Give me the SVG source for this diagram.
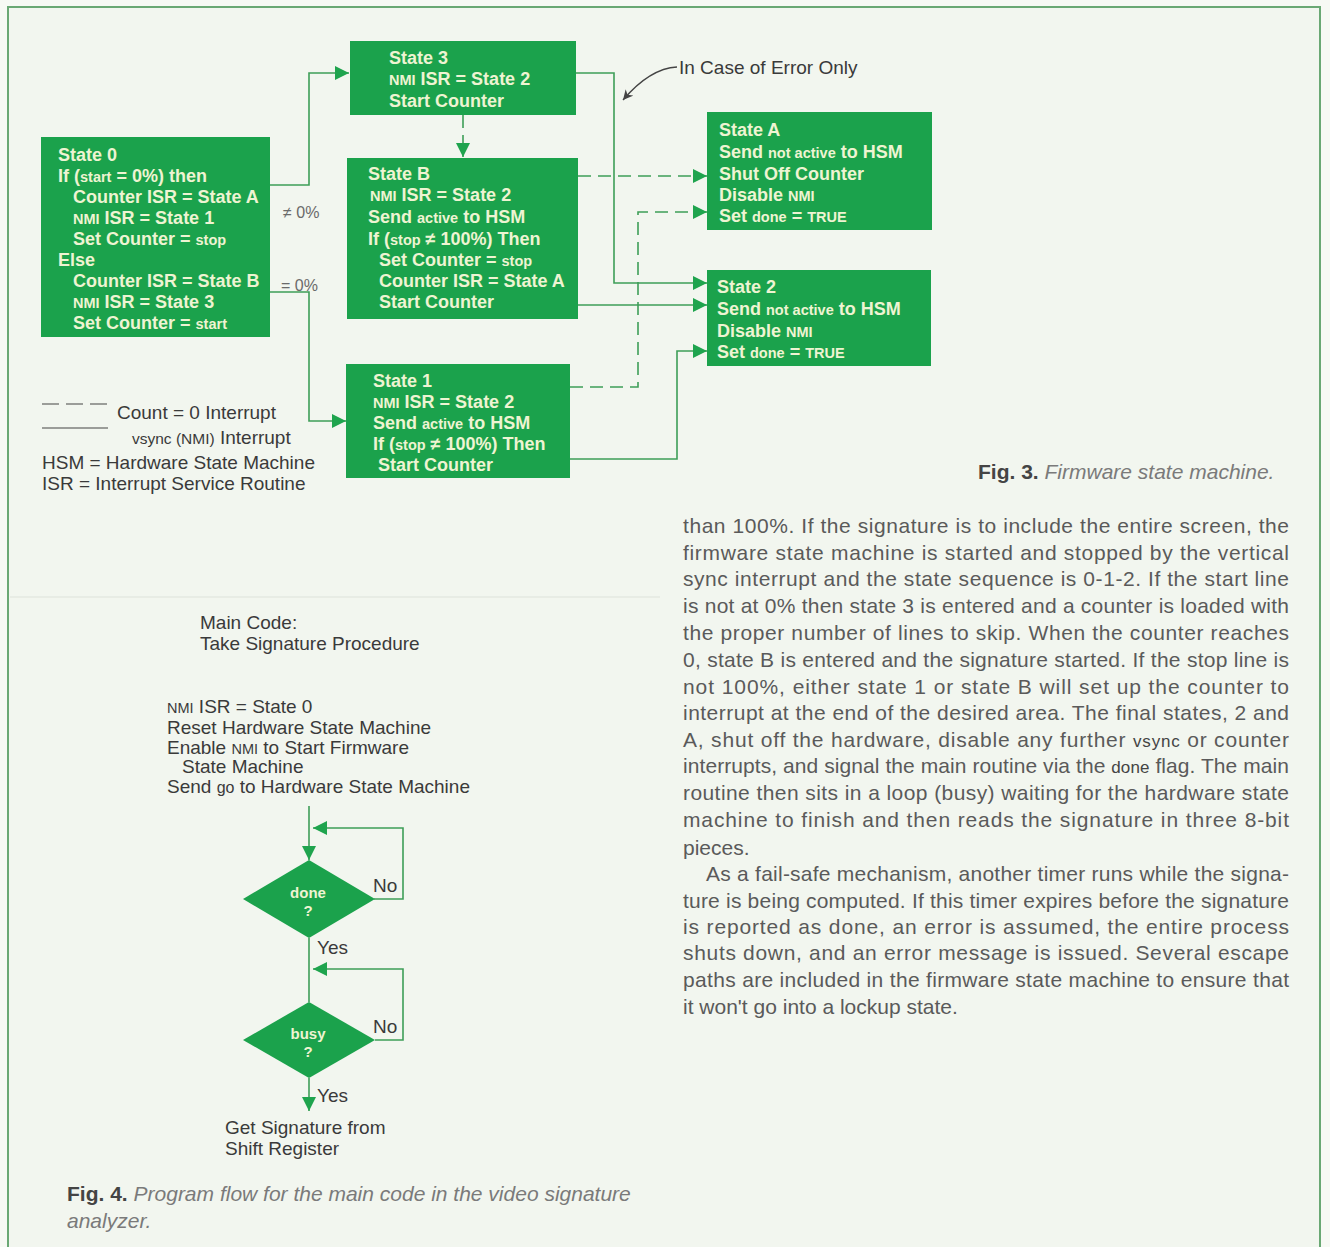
<svg xmlns="http://www.w3.org/2000/svg" width="1330" height="1247" viewBox="0 0 1330 1247">
<style>
.box{fill:#1ba24c}
.bt{font-family:"Liberation Sans",Arial,sans-serif;font-weight:bold;font-size:18px;fill:#eef4d2}
.sm{font-size:14.5px}
.conn{fill:none;stroke:#3e9e58;stroke-width:1.6}
.dash{stroke-dasharray:13 7}
.lbl{font-family:"Liberation Sans",Arial,sans-serif;font-size:16px;fill:#6a6a6a}
.lg{font-family:"Liberation Sans",Arial,sans-serif;font-size:19px;fill:#3a3a3a}
.para{font-family:"Liberation Sans",Arial,sans-serif;font-size:21px;fill:#5a5a5a}
.cap{font-family:"Liberation Sans",Arial,sans-serif;font-size:21px}
.dt{font-family:"Liberation Sans",Arial,sans-serif;font-weight:bold;font-size:15px;fill:#eef4d2;text-anchor:middle}
</style>
<defs>
<marker id="ah" markerUnits="userSpaceOnUse" markerWidth="15" markerHeight="15" refX="14" refY="7" orient="auto">
<path d="M0,0 L14,7 L0,14 z" fill="#1fa44e"/>
</marker>
<marker id="ahs" markerUnits="userSpaceOnUse" markerWidth="12" markerHeight="12" refX="10" refY="5" orient="auto">
<path d="M0,0 L10,5 L0,10 L3,5 z" fill="#444"/>
</marker>
</defs>
<rect x="0" y="0" width="1330" height="1247" fill="#f7f9f4"/>
<rect x="8" y="7" width="1312" height="1260" fill="#f2f6ef" stroke="#6aa874" stroke-width="2"/>
<line x1="10" y1="597" x2="660" y2="597" stroke="#dde2da" stroke-width="1"/>

<g id="connectors">
<path class="conn" d="M270,185 H309 V73 H349" marker-end="url(#ah)"/>
<path class="conn" d="M270,292 H309 V421 H346" marker-end="url(#ah)"/>
<path class="conn dash" d="M463,115 V157" marker-end="url(#ah)"/>
<path class="conn" d="M576,73 H614 V283 H707" marker-end="url(#ah)"/>
<path class="conn dash" d="M578,176 H707" marker-end="url(#ah)"/>
<path class="conn" d="M578,305 H707" marker-end="url(#ah)"/>
<path class="conn dash" d="M570,387 H638 V212 H707" marker-end="url(#ah)"/>
<path class="conn" d="M570,459 H677 V351 H707" marker-end="url(#ah)"/>
<path d="M677,67 C658,68 640,80 623,100" fill="none" stroke="#444" stroke-width="1.3" marker-end="url(#ahs)"/>
<text class="lbl" x="283" y="218">≠ 0%</text>
<text class="lbl" x="281" y="291">= 0%</text>
</g>

<g id="state0">
<rect class="box" x="41" y="137" width="229" height="200"/>
<text class="bt" x="58" y="161">State 0</text>
<text class="bt" x="58" y="182">If (<tspan class="sm">start</tspan> = 0%) then</text>
<text class="bt" x="73" y="203">Counter ISR = State A</text>
<text class="bt" x="73" y="224"><tspan class="sm">NMI</tspan> ISR = State 1</text>
<text class="bt" x="73" y="245">Set Counter = <tspan class="sm">stop</tspan></text>
<text class="bt" x="58" y="266">Else</text>
<text class="bt" x="73" y="287">Counter ISR = State B</text>
<text class="bt" x="73" y="308"><tspan class="sm">NMI</tspan> ISR = State 3</text>
<text class="bt" x="73" y="329">Set Counter = <tspan class="sm">start</tspan></text>
</g>

<g id="state3">
<rect class="box" x="350" y="41" width="226" height="74"/>
<text class="bt" x="389" y="64">State 3</text>
<text class="bt" x="389" y="85"><tspan class="sm">NMI</tspan> ISR = State 2</text>
<text class="bt" x="389" y="107">Start Counter</text>
</g>

<g id="stateB">
<rect class="box" x="347" y="158" width="231" height="161"/>
<text class="bt" x="368" y="180">State B</text>
<text class="bt" x="370" y="201"><tspan class="sm">NMI</tspan> ISR = State 2</text>
<text class="bt" x="368" y="223">Send <tspan class="sm">active</tspan> to HSM</text>
<text class="bt" x="368" y="245">If (<tspan class="sm">stop</tspan> ≠ 100%) Then</text>
<text class="bt" x="379" y="266">Set Counter = <tspan class="sm">stop</tspan></text>
<text class="bt" x="379" y="287">Counter ISR = State A</text>
<text class="bt" x="379" y="308">Start Counter</text>
</g>

<g id="state1">
<rect class="box" x="346" y="364" width="224" height="114"/>
<text class="bt" x="373" y="387">State 1</text>
<text class="bt" x="373" y="408"><tspan class="sm">NMI</tspan> ISR = State 2</text>
<text class="bt" x="373" y="429">Send <tspan class="sm">active</tspan> to HSM</text>
<text class="bt" x="373" y="450">If (<tspan class="sm">stop</tspan> ≠ 100%) Then</text>
<text class="bt" x="378" y="471">Start Counter</text>
</g>

<g id="stateA">
<rect class="box" x="707" y="112" width="225" height="118"/>
<text class="bt" x="719" y="136">State A</text>
<text class="bt" x="719" y="158">Send <tspan class="sm">not active</tspan> to HSM</text>
<text class="bt" x="719" y="180">Shut Off Counter</text>
<text class="bt" x="719" y="201">Disable <tspan class="sm">NMI</tspan></text>
<text class="bt" x="719" y="222">Set <tspan class="sm">done</tspan> = <tspan class="sm">TRUE</tspan></text>
</g>

<g id="state2">
<rect class="box" x="707" y="270" width="224" height="96"/>
<text class="bt" x="717" y="293">State 2</text>
<text class="bt" x="717" y="315">Send <tspan class="sm">not active</tspan> to HSM</text>
<text class="bt" x="717" y="337">Disable <tspan class="sm">NMI</tspan></text>
<text class="bt" x="717" y="358">Set <tspan class="sm">done</tspan> = <tspan class="sm">TRUE</tspan></text>
</g>

<g id="error-note">
<text class="lg" x="679" y="74">In Case of Error Only</text>
</g>

<g id="legend">
<line x1="42" y1="404" x2="108" y2="404" stroke="#444" stroke-width="1.2" stroke-dasharray="17 7"/>
<line x1="42" y1="428" x2="108" y2="428" stroke="#444" stroke-width="1.2"/>
<text class="lg" x="117" y="419">Count = 0 Interrupt</text>
<text class="lg" x="132" y="444"><tspan font-size="15.5">vsync (NMI)</tspan> Interrupt</text>
<text class="lg" x="42" y="469">HSM = Hardware State Machine</text>
<text class="lg" x="42" y="490">ISR = Interrupt Service Routine</text>
</g>

<g id="fig3-caption">
<text class="cap" x="978" y="479"><tspan font-weight="bold" fill="#444">Fig. 3.</tspan><tspan fill="#7a7a7a" font-style="italic"> Firmware state machine.</tspan></text>
</g>

<g id="paragraph">
<text class="para" x="683" y="533" textLength="606" lengthAdjust="spacing">than 100%. If the signature is to include the entire screen, the</text>
<text class="para" x="683" y="560" textLength="606" lengthAdjust="spacing">firmware state machine is started and stopped by the vertical</text>
<text class="para" x="683" y="586" textLength="606" lengthAdjust="spacing">sync interrupt and the state sequence is 0-1-2. If the start line</text>
<text class="para" x="683" y="613" textLength="606" lengthAdjust="spacing">is not at 0% then state 3 is entered and a counter is loaded with</text>
<text class="para" x="683" y="640" textLength="606" lengthAdjust="spacing">the proper number of lines to skip. When the counter reaches</text>
<text class="para" x="683" y="667" textLength="606" lengthAdjust="spacing">0, state B is entered and the signature started. If the stop line is</text>
<text class="para" x="683" y="694" textLength="606" lengthAdjust="spacing">not 100%, either state 1 or state B will set up the counter to</text>
<text class="para" x="683" y="720" textLength="606" lengthAdjust="spacing">interrupt at the end of the desired area. The final states, 2 and</text>
<text class="para" x="683" y="747" textLength="606" lengthAdjust="spacing">A, shut off the hardware, disable any further <tspan font-size="17" fill="#444">vsync</tspan> or counter</text>
<text class="para" x="683" y="773" textLength="606" lengthAdjust="spacing">interrupts, and signal the main routine via the <tspan font-size="17" fill="#444">done</tspan> flag. The main</text>
<text class="para" x="683" y="800" textLength="606" lengthAdjust="spacing">routine then sits in a loop (busy) waiting for the hardware state</text>
<text class="para" x="683" y="827" textLength="606" lengthAdjust="spacing">machine to finish and then reads the signature in three 8-bit</text>
<text class="para" x="683" y="855">pieces.</text>
<text class="para" x="706" y="881" textLength="583" lengthAdjust="spacing">As a fail-safe mechanism, another timer runs while the signa-</text>
<text class="para" x="683" y="908" textLength="606" lengthAdjust="spacing">ture is being computed. If this timer expires before the signature</text>
<text class="para" x="683" y="934" textLength="606" lengthAdjust="spacing">is reported as done, an error is assumed, the entire process</text>
<text class="para" x="683" y="960" textLength="606" lengthAdjust="spacing">shuts down, and an error message is issued. Several escape</text>
<text class="para" x="683" y="987" textLength="606" lengthAdjust="spacing">paths are included in the firmware state machine to ensure that</text>
<text class="para" x="683" y="1014">it won't go into a lockup state.</text>
</g>

<g id="main-code">
<text class="lg" x="200" y="629">Main Code:</text>
<text class="lg" x="200" y="650">Take Signature Procedure</text>
</g>

<g id="init-steps">
<text class="lg" x="167" y="713"><tspan font-size="14.5">NMI</tspan> ISR = State 0</text>
<text class="lg" x="167" y="734">Reset Hardware State Machine</text>
<text class="lg" x="167" y="754">Enable <tspan font-size="14.5">NMI</tspan> to Start Firmware</text>
<text class="lg" x="182" y="773">State Machine</text>
<text class="lg" x="167" y="793">Send <tspan font-size="16">go</tspan> to Hardware State Machine</text>
</g>

<g id="flow-connectors">
<path class="conn" d="M309,806 V860" marker-end="url(#ah)"/>
<path class="conn" d="M374,899 H403 V828 H313" marker-end="url(#ah)"/>
<path class="conn" d="M309,938 V1002"/>
<path class="conn" d="M375,1040 H403 V969 H313" marker-end="url(#ah)"/>
<path class="conn" d="M309,1078 V1111" marker-end="url(#ah)"/>
<text class="lg" x="373" y="892">No</text>
<text class="lg" x="317" y="954">Yes</text>
<text class="lg" x="373" y="1033">No</text>
<text class="lg" x="317" y="1102">Yes</text>
</g>

<g id="done-decision">
<polygon class="box" points="309,860 375,899 309,938 243,899"/>
<text class="dt" x="308" y="898">done</text>
<text class="dt" x="308" y="916">?</text>
</g>

<g id="busy-decision">
<polygon class="box" points="309,1002 375,1040 309,1078 243,1040"/>
<text class="dt" x="308" y="1039">busy</text>
<text class="dt" x="308" y="1057">?</text>
</g>

<g id="get-signature">
<text class="lg" x="225" y="1134">Get Signature from</text>
<text class="lg" x="225" y="1155">Shift Register</text>
</g>

<g id="fig4-caption">
<text class="cap" x="67" y="1201"><tspan font-weight="bold" fill="#444">Fig. 4.</tspan><tspan fill="#7a7a7a" font-style="italic">  Program flow for the main code in the video signature</tspan></text>
<text class="cap" x="67" y="1228" fill="#7a7a7a" font-style="italic">analyzer.</text>
</g>
</svg>
